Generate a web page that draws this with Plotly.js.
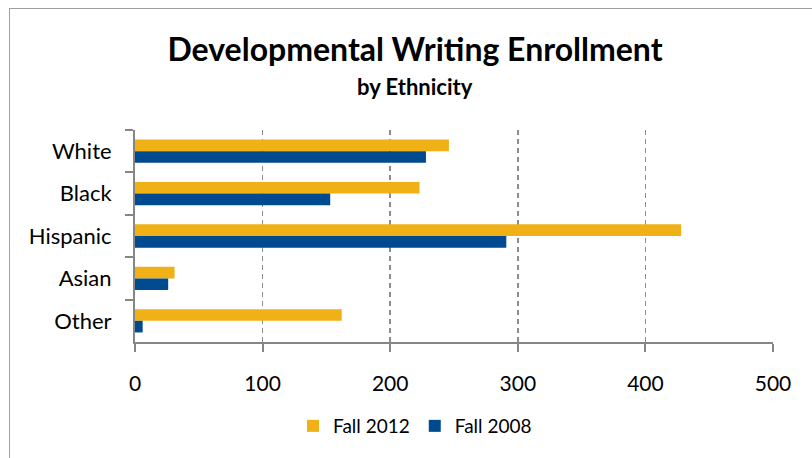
<!DOCTYPE html>
<html><head><meta charset="utf-8">
<script src="https://cdn.plot.ly/plotly-3.0.1.min.js"></script>
<style>
body{margin:0;background:#fff;}
#wrap{position:relative;width:812px;height:458px;overflow:hidden;background:#fff;}
#chart{position:absolute;left:0;top:0;width:812px;height:458px;}
#frame{position:absolute;left:9px;top:8px;width:900px;height:600px;border:1px solid #a0a0a0;pointer-events:none;}
</style>
</head><body>
<div id="wrap"><div id="chart"></div><div id="frame"></div></div>
<script>
const categories = ['White', 'Black', 'Hispanic', 'Asian', 'Other'];
const fall2012 = [246, 223, 428, 31, 162];
const fall2008 = [228, 153, 291, 26, 6];
const xTicks = [0, 100, 200, 300, 400, 500];
const seriesNames = ['Fall 2012', 'Fall 2008'];

const FONT = 'Lato, "Open Sans", sans-serif';
const axisColor = '#868686';

const data = [
  {type: 'bar', orientation: 'h', name: seriesNames[0], y: categories, x: fall2012,
   marker: {color: '#EFB116', line: {width: 0}}, hoverinfo: 'x+y'},
  {type: 'bar', orientation: 'h', name: seriesNames[1], y: categories, x: fall2008,
   marker: {color: '#004A8F', line: {width: 0}}, hoverinfo: 'x+y'}
];

const layout = {
  width: 812, height: 458,
  margin: {l: 135, r: 39, t: 130, b: 116, pad: 0},
  paper_bgcolor: 'rgba(0,0,0,0)', plot_bgcolor: 'rgba(0,0,0,0)',
  font: {family: FONT, color: '#000'},
  title: {
    text: '<b>Developmental Writing Enrollment</b>',
    font: {family: FONT, size: 32, color: '#000'},
    x: 415/812, xref: 'container', xanchor: 'center',
    y: 1 - 50/458, yref: 'container', yanchor: 'middle'
  },
  annotations: [{
    text: '<b>by Ethnicity</b>', showarrow: false,
    xref: 'paper', yref: 'paper',
    x: (415-135)/638, y: 1 + (130-86)/212, xanchor: 'center', yanchor: 'middle',
    font: {family: FONT, size: 22, color: '#000'}
  }],
  barmode: 'group', bargap: 0.45, bargroupgap: 0,
  xaxis: {
    range: [0, 500], tickvals: xTicks, ticktext: xTicks.map(String),
    showgrid: true, gridcolor: '#8c8c8c', griddash: '5px,4px', gridwidth: 1.5,
    zeroline: false, showline: true, linecolor: axisColor, linewidth: 2,
    ticks: 'outside', ticklen: 8, tickwidth: 2, tickcolor: axisColor,
    tickfont: {family: FONT, size: 21, color: '#000'}, ticklabelstandoff: 14,
    fixedrange: true
  },
  yaxis: {
    type: 'category', categoryorder: 'array', categoryarray: categories,
    range: [4.5, -0.5], showgrid: false, zeroline: false,
    showline: true, linecolor: axisColor, linewidth: 2,
    ticks: 'outside', tickson: 'boundaries', ticklen: 8, tickwidth: 2, tickcolor: axisColor,
    tickfont: {family: FONT, size: 22, color: '#000'}, ticklabelstandoff: 17,
    fixedrange: true
  },
  showlegend: true,
  legend: {
    orientation: 'h', x: (415-135)/638, xanchor: 'center',
    y: (342-426)/212, yanchor: 'middle',
    font: {family: FONT, size: 19, color: '#000'},
    traceorder: 'normal', itemwidth: 30, bgcolor: 'rgba(0,0,0,0)'
  }
};

Plotly.newPlot('chart', data, layout, {displayModeBar: false, staticPlot: true});
</script>
</body></html>
